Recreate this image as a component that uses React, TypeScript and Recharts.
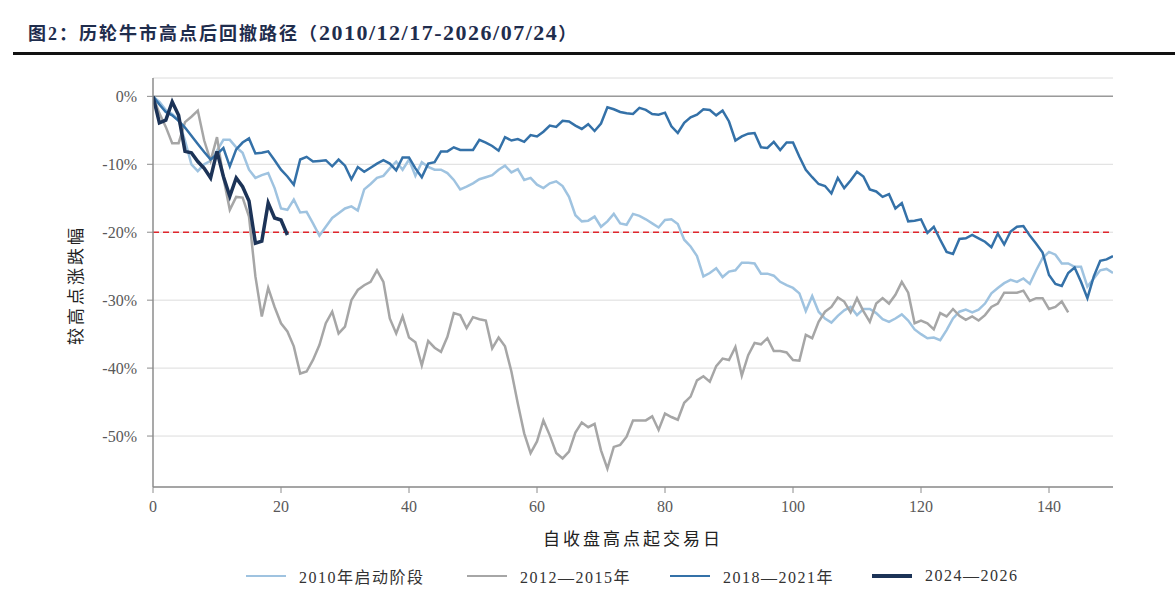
import React from 'react';
import { LineChart, Line, XAxis, YAxis, CartesianGrid, ReferenceLine } from 'recharts';

// 较高点涨跌幅 (%), one value per trading day after the closing high
const s2010 = [
  0, -0.8, -2.0, -2.6, -3.5, -6.5, -10.0, -11.0, -10.0, -9.5,
  -8.0, -6.4, -6.4, -7.5, -8.3, -10.8, -12.0, -11.6, -11.3, -13.5,
  -16.5, -16.7, -15.2, -17.1, -17.0, -18.7, -20.5, -19.2, -17.9, -17.2,
  -16.5, -16.2, -16.8, -13.7, -12.9, -12.0, -11.7, -10.6, -9.6, -10.8,
  -9.3, -11.7, -9.7, -10.4, -10.8, -10.8, -11.3, -12.3, -13.7, -13.3,
  -12.8, -12.2, -11.9, -11.6, -10.8, -10.2, -11.2, -10.7, -12.3, -12.0,
  -13.0, -13.5, -12.8, -12.5, -13.2, -14.8, -17.5, -18.4, -18.3, -17.7,
  -19.2, -18.4, -17.3, -18.7, -18.9, -17.3, -17.6, -18.1, -18.7, -19.3,
  -18.2, -18.1, -18.8, -21.1, -22.1, -23.5, -26.5, -26.0, -25.3, -26.6,
  -25.8, -25.6, -24.5, -24.5, -24.6, -26.1, -26.1, -26.4, -27.3, -27.8,
  -28.2, -29.0, -31.6, -29.4, -31.7, -32.7, -33.3, -32.3, -31.5, -31.0,
  -32.2, -31.3, -31.3, -31.9, -32.8, -33.2, -32.7, -32.1, -33.0, -34.3,
  -35.0, -35.6, -35.5, -35.9, -34.4, -32.7, -31.7, -31.4, -31.8, -31.4,
  -30.5, -29.0, -28.2, -27.5, -27.0, -27.3, -26.8, -27.6, -25.6, -23.8,
  -22.9, -23.3, -24.6, -24.6, -25.1, -25.1, -28.0, -26.8, -25.6, -25.4,
  -26.0,
];

const s2012 = [
  0, -2.5, -4.5, -6.9, -6.9, -3.8, -3.0, -2.1, -6.5, -9.5,
  -6.0, -12.0, -16.7, -14.8, -14.9, -17.7, -26.5, -32.4, -28.2, -31.0,
  -33.4, -34.6, -36.8, -40.8, -40.5, -38.8, -36.6, -33.4, -31.7, -34.9,
  -33.9, -30.0, -28.5, -27.8, -27.3, -25.6, -27.3, -32.7, -34.9, -32.4,
  -35.5, -36.2, -39.6, -36.0, -37.0, -37.6, -35.4, -31.9, -32.2, -34.1,
  -32.5, -32.8, -33.0, -37.1, -35.5, -36.8, -40.5, -45.2, -49.6, -52.5,
  -50.8, -47.7, -49.9, -52.5, -53.3, -52.3, -49.5, -48.0, -48.7, -48.2,
  -52.1, -54.8, -51.6, -51.3, -50.1, -47.7, -47.7, -47.7, -47.1, -49.1,
  -46.7, -47.2, -47.6, -45.1, -44.2, -41.8, -41.2, -42.0, -39.7, -38.6,
  -38.8, -36.9, -41.1, -38.1, -36.3, -36.5, -35.6, -37.5, -37.5, -37.7,
  -38.8, -38.9, -35.1, -35.6, -33.2, -31.7, -31.0, -29.6, -30.2, -31.8,
  -29.7, -31.6, -33.2, -30.5, -29.7, -30.5, -29.2, -27.3, -28.9, -33.4,
  -33.0, -33.4, -34.3, -31.9, -32.4, -31.3, -32.3, -32.9, -32.4, -33.0,
  -32.2, -31.0, -30.5, -28.9, -28.9, -28.9, -28.6, -30.1, -29.7, -29.7,
  -31.3, -31.0, -30.2, -31.8,
];

const s2018 = [
  0, -1.2, -2.3, -2.8, -3.6, -4.6, -5.8, -7.0, -8.2, -9.3,
  -8.5, -7.6, -10.3, -7.8, -6.8, -6.2, -8.4, -8.3, -8.1, -9.4,
  -10.8, -11.8, -13.0, -9.3, -8.9, -9.6, -9.5, -9.4, -10.3, -9.3,
  -10.2, -12.2, -10.4, -11.1, -10.5, -9.9, -9.4, -9.9, -10.9, -9.0,
  -9.0, -10.6, -11.9, -9.9, -9.7, -8.1, -8.1, -7.5, -7.9, -7.9,
  -7.9, -6.4, -6.8, -7.3, -8.0, -6.0, -6.5, -6.3, -6.7, -5.7,
  -5.9, -5.2, -4.3, -4.5, -3.6, -3.7, -4.3, -4.8, -4.1, -5.1,
  -4.0, -1.6, -1.9, -2.3, -2.5, -2.6, -1.7, -2.0, -2.6, -2.7,
  -2.4, -4.4, -5.4, -3.9, -3.1, -2.7, -1.9, -2.0, -2.8, -2.1,
  -3.7, -6.5, -5.9, -5.5, -5.4, -7.5, -7.6, -6.7, -7.9, -6.8,
  -6.8, -8.9, -10.8, -11.9, -12.9, -13.2, -14.3, -12.0, -13.5, -12.4,
  -11.1, -11.8, -13.7, -14.0, -14.8, -14.4, -16.5, -15.7, -18.4, -18.3,
  -18.1, -20.1, -19.2, -21.1, -22.9, -23.2, -21.0, -20.9, -20.4, -20.9,
  -21.4, -22.2, -20.2, -21.8, -19.9, -19.2, -19.1, -20.5, -21.7, -23.0,
  -26.3, -27.6, -27.9, -26.0, -25.2, -27.3, -29.7, -26.5, -24.2, -24.0,
  -23.5,
];

const s2024 = [
  0, -3.9, -3.5, -0.8, -2.8, -8.1, -8.3, -9.6, -10.6, -12.0,
  -8.1, -11.8, -14.7, -12.0, -13.3, -15.4, -21.6, -21.3, -15.7, -17.9,
  -18.2, -20.4,
];

const seriesNames = ['2010年启动阶段', '2012—2015年', '2018—2021年', '2024—2026'];
const seriesKeys = ['s2010', 's2012', 's2018', 's2024'];
const seriesColors = ['#9fc3e0', '#a6a6a6', '#3471a8', '#1c3357'];
const seriesWidths = [2.5, 2.5, 2.5, 3.5];

const xTicks = [0, 20, 40, 60, 80, 100, 120, 140];
const yTicks = [0, -10, -20, -30, -40, -50];
const threshold = -20;

const allSeries = [s2010, s2012, s2018, s2024];
const dayCount = Math.max(...allSeries.map((s) => s.length));
const data = Array.from({ length: dayCount }, (_, i) => {
  const row: Record<string, number | undefined> = { day: i };
  seriesKeys.forEach((k, j) => {
    row[k] = allSeries[j][i];
  });
  return row;
});

const serif = "'Liberation Serif', 'Times New Roman', 'Noto Sans CJK SC', serif";
const tickStyle = { fill: '#595959', fontSize: 16, fontFamily: serif };

export default function App() {
  return (
    <div
      style={{
        position: 'absolute',
        left: 0,
        top: 0,
        width: 1175,
        height: 600,
        background: '#fff',
        overflow: 'hidden',
        fontFamily: serif,
      }}
    >
      {/* title + rule */}
      <div
        style={{
          position: 'absolute',
          left: 28,
          top: 20,
          whiteSpace: 'nowrap',
          color: '#1f2d4d',
          fontWeight: 'bold',
          fontSize: 18,
          letterSpacing: 2,
          lineHeight: '26px',
        }}
      >
        图2：历轮牛市高点后回撤路径（
        <span style={{ fontSize: 22, letterSpacing: 1.5 }}>2010/12/17-2026/07/24</span>）
      </div>
      <div style={{ position: 'absolute', left: 13, top: 52, width: 1162, height: 2.5, background: '#111' }} />

      <div style={{ position: 'absolute', left: 0, top: 0 }}>
        <LineChart
          width={1175}
          height={600}
          data={data}
          margin={{ top: 78, right: 62, bottom: 83, left: 0 }}
        >
          <CartesianGrid horizontal vertical={false} stroke="#dcdcdc" strokeWidth={1} />
          <XAxis
            dataKey="day"
            type="number"
            domain={[0, 150]}
            ticks={xTicks}
            height={30}
            tickSize={6}
            tickMargin={8}
            axisLine={{ stroke: '#8c8c8c', strokeWidth: 1.5 }}
            tickLine={{ stroke: '#8c8c8c' }}
            tick={tickStyle}
            allowDataOverflow
          />
          <YAxis
            type="number"
            domain={[-57.5, 2.7]}
            ticks={yTicks}
            width={153}
            tickSize={6}
            tickMargin={10}
            tickFormatter={(v: number) => `${v}%`}
            axisLine={{ stroke: '#8c8c8c', strokeWidth: 1.5 }}
            tickLine={{ stroke: '#8c8c8c' }}
            tick={tickStyle}
            allowDataOverflow
          />
          <ReferenceLine y={0} stroke="#9a9a9a" strokeWidth={1.5} />
          <ReferenceLine y={threshold} stroke="#e0262c" strokeWidth={1.5} strokeDasharray="6 4" />
          {seriesKeys.map((k, i) => (
            <Line
              key={k}
              type="linear"
              dataKey={k}
              name={seriesNames[i]}
              stroke={seriesColors[i]}
              strokeWidth={seriesWidths[i]}
              dot={false}
              activeDot={false}
              isAnimationActive={false}
            />
          ))}
        </LineChart>
      </div>

      {/* axis titles */}
      <div
        style={{
          position: 'absolute',
          left: 74,
          top: 285,
          transform: 'translate(-50%, -50%) rotate(-90deg)',
          whiteSpace: 'nowrap',
          fontSize: 17,
          letterSpacing: 3,
          color: '#222',
        }}
      >
        较高点涨跌幅
      </div>
      <div
        style={{
          position: 'absolute',
          left: 633,
          top: 537,
          transform: 'translate(-50%, -50%)',
          whiteSpace: 'nowrap',
          fontSize: 17,
          letterSpacing: 3,
          color: '#222',
        }}
      >
        自收盘高点起交易日
      </div>

      {/* legend */}
      {seriesNames.map((name, i) => {
        const lefts = [246, 467, 670, 872];
        return (
          <div
            key={name}
            style={{
              position: 'absolute',
              left: lefts[i],
              top: 566,
              height: 20,
              display: 'flex',
              alignItems: 'center',
              whiteSpace: 'nowrap',
              fontSize: 16,
              letterSpacing: 1.5,
              color: '#333',
            }}
          >
            <span
              style={{
                display: 'inline-block',
                width: 40,
                height: seriesWidths[i],
                background: seriesColors[i],
                marginRight: 13,
              }}
            />
            {name}
          </div>
        );
      })}
    </div>
  );
}
